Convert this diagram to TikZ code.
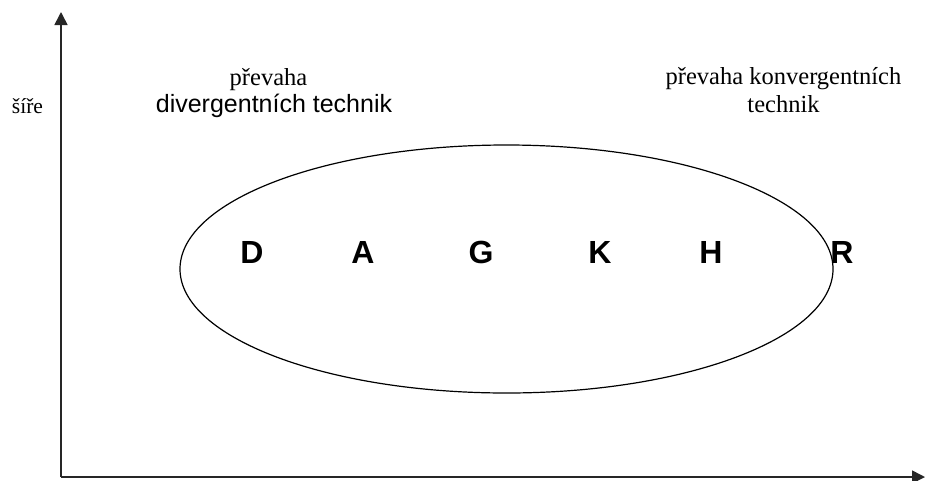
\documentclass[tikz,border=0pt]{standalone}
\usepackage{fontspec}
\setmainfont{Liberation Serif}
\setsansfont{Liberation Sans}
\usetikzlibrary{arrows.meta,shapes.geometric}
\tikzset{
  axis/.style={line width=1.6pt, draw=black!85, -{Triangle[length=13pt,width=13pt]}},
  serifnote/.style={font=\fontsize{24.5}{26}\selectfont, inner sep=0pt, anchor=base},
  sansnote/.style={font=\sffamily\fontsize{25}{26}\selectfont, inner sep=0pt, anchor=base},
  letter/.style={font=\sffamily\bfseries\fontsize{32}{32}\selectfont, inner sep=0pt, anchor=base},
}
\begin{document}
\begin{tikzpicture}[x=1pt,y=-1pt]
\useasboundingbox (0,0) rectangle (925,480);
\coordinate (o) at (61,477);
\coordinate (ytop) at (61,12);
\coordinate (xend) at (925,477);
\draw[axis] (o) -- (ytop);
\draw[axis] (o) -- (xend);
\node[draw, line width=1.2pt, ellipse, minimum width=653pt, minimum height=248pt, inner sep=0pt] (ell) at (506.5,269) {};
\node[serifnote, font=\fontsize{21.5}{24}\selectfont] (s) at (27.5,113) {šíře};
\node[serifnote] (p1) at (268.5,85) {převaha};
\node[sansnote] (d1) at (274,112) {divergentních technik};
\node[serifnote] (p2) at (783.5,84) {převaha konvergentních};
\node[serifnote] (p3) at (783.5,112) {technik};
\node[letter] (D) at (252,263) {D};
\node[letter] (A) at (363,263) {A};
\node[letter] (G) at (481,263) {G};
\node[letter] (K) at (600,263) {K};
\node[letter] (H) at (711,263) {H};
\node[letter] (R) at (842,263) {R};
\end{tikzpicture}
\end{document}
